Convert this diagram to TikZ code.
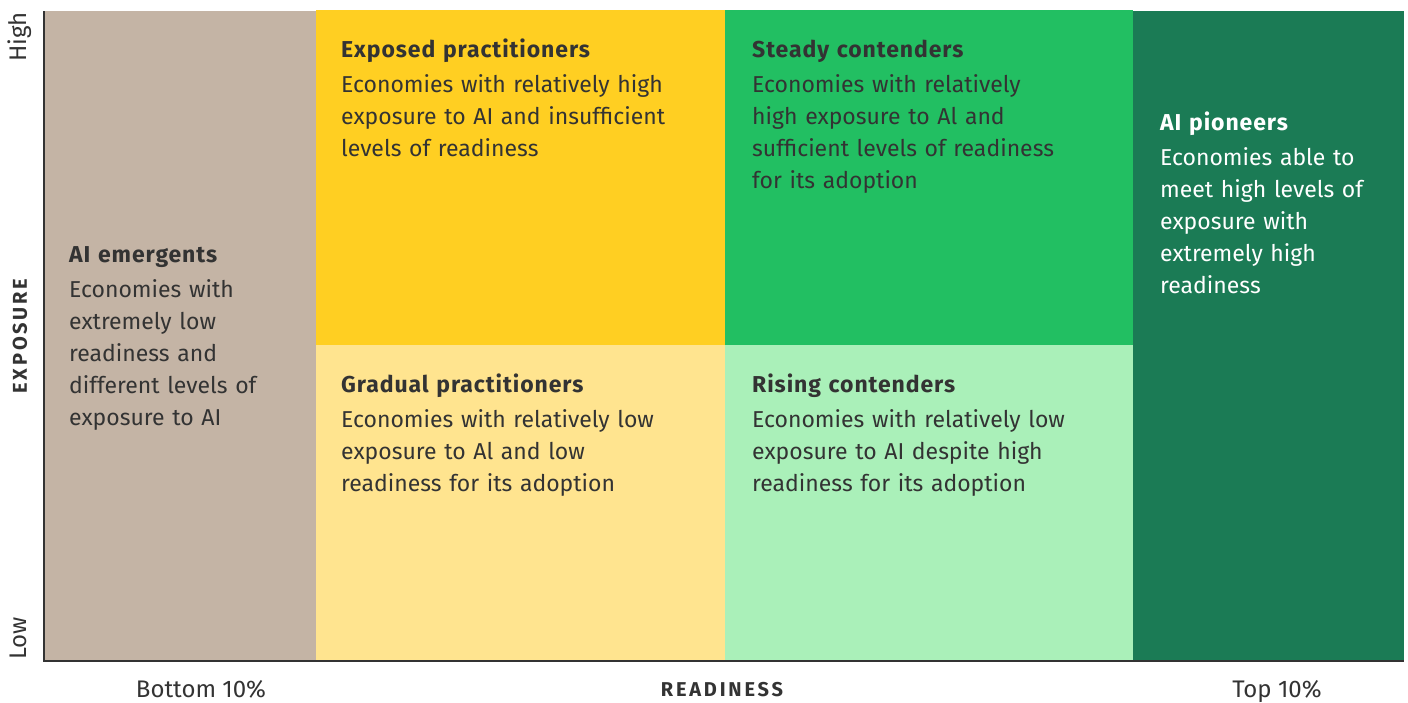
\documentclass[tikz,border=0pt]{standalone}
\usepackage{fontspec}
\setmainfont{Fira Sans}
\usepackage{tikz}

\definecolor{emergcol}{RGB}{196,180,165}
\definecolor{expcol}{RGB}{255,207,34}
\definecolor{gradcol}{RGB}{255,228,143}
\definecolor{steadycol}{RGB}{34,191,98}
\definecolor{risecol}{RGB}{170,240,185}
\definecolor{pioncol}{RGB}{27,123,85}
\definecolor{inkcol}{RGB}{51,51,51}

\newcommand\headline[1]{{\bfseries\addfontfeatures{LetterSpace=4}#1}}

\begin{document}
\begin{tikzpicture}[x=1pt,y=-1pt,
  cell/.style={anchor=north west,inner sep=0,outer sep=0,draw=none},
  blurb/.style={anchor=base west,inner sep=0,align=left,text width=#1,
    text=inkcol,font=\fontsize{23}{32}\selectfont},
  ticklab/.style={inner sep=0,text=inkcol,font=\fontsize{24}{28}\selectfont},
  axlab/.style={inner sep=0,text=inkcol,font=\fontsize{20}{24}\selectfont\bfseries\addfontfeatures{LetterSpace=14}},
  axis/.style={draw=inkcol,line width=1.5pt}]
\useasboundingbox (0,0) rectangle (1408,702);

% the six cells
\foreach \nm/\xa/\ya/\xb/\yb/\col in {emerg/45/11/316/661/emergcol,
    exposed/316/10/725/345/expcol, gradual/316/345/725/661/gradcol,
    steady/725/10/1133/345/steadycol, rising/725/345/1133/661/risecol,
    pion/1133/11/1404/661/pioncol} {
  \node[cell,fill=\col,minimum width={(\xb-\xa)*1pt},
    minimum height={(\yb-\ya)*1pt}] (\nm) at (\xa,\ya) {};
}

% axes
\coordinate (ytop) at (44,11);
\coordinate (orig) at (44,661);
\coordinate (xend) at (1404,661);
\draw[axis] (ytop) -- (orig) -- (xend);

% texts in the cells
\node[blurb=240pt] (emergtxt) at (69,262) {\headline{AI emergents}\\[3pt]
  Economies with\\ extremely low\\ readiness and\\ different levels of\\ exposure to AI};
\node[blurb=370pt] (exptxt) at (341,57) {\headline{Exposed practitioners}\\[3pt]
  Economies with relatively high\\ exposure to AI and insufficient\\ levels of readiness};
\node[blurb=370pt] (gradtxt) at (341,392) {\headline{Gradual practitioners}\\[3pt]
  Economies with relatively low\\ exposure to Al and low\\ readiness for its adoption};
\node[blurb=370pt] (steadytxt) at (752,57) {\headline{Steady contenders}\\[3pt]
  Economies with relatively\\ high exposure to Al and\\ sufficient levels of readiness\\ for its adoption};
\node[blurb=370pt] (risetxt) at (752,392) {\headline{Rising contenders}\\[3pt]
  Economies with relatively low\\ exposure to AI despite high\\ readiness for its adoption};
\node[blurb=240pt,text=white] (piontxt) at (1160,130) {\headline{AI pioneers}\\[3pt]
  Economies able to\\ meet high levels of\\ exposure with\\ extremely high\\ readiness};

% axis labels
\node[ticklab,rotate=90,anchor=base east] (high) at (27,12) {High};
\node[ticklab,rotate=90,anchor=base west] (low) at (27,660) {Low};
\node[axlab,rotate=90,anchor=base] (expo) at (27,336) {EXPOSURE};
\node[ticklab,anchor=base] (bottom) at (201,697) {Bottom 10\%};
\node[axlab,anchor=base] (ready) at (722,696) {READINESS};
\node[ticklab,anchor=base] (top) at (1277,697) {Top 10\%};
\end{tikzpicture}
\end{document}
